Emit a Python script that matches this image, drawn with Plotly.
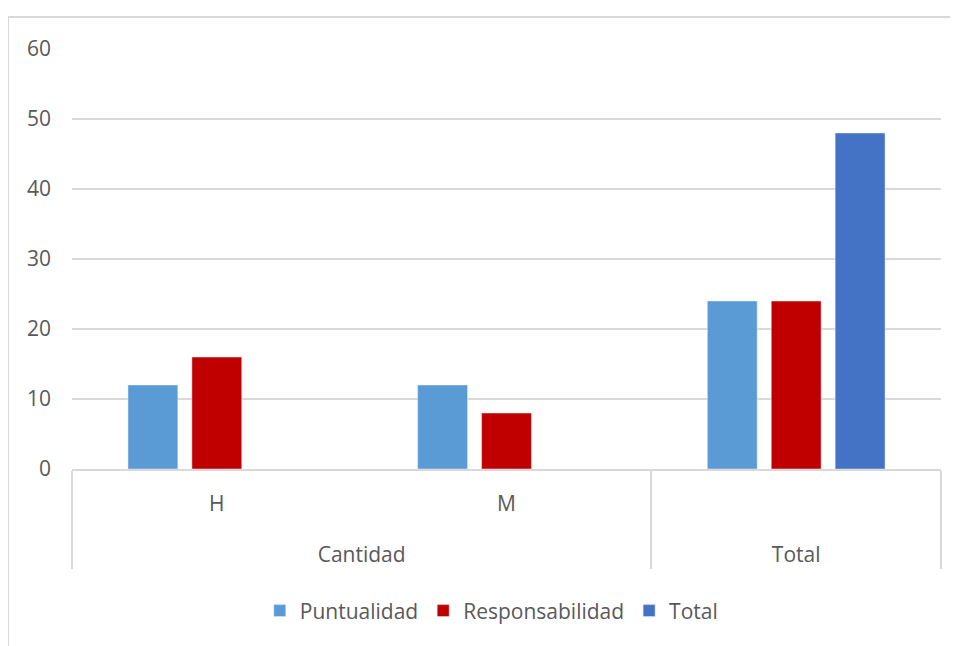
"""
Puntualidad y Responsabilidad por sexo — barras agrupadas
"""

import plotly.graph_objects as go

# categorías (nivel externo, nivel interno)
grupos = ["Cantidad", "Cantidad", "Total"]
sexos = ["H", "M", " "]

puntualidad = [12, 12, 24]
responsabilidad = [16, 8, 24]
total = [None, None, 48]

y_ticks = [0, 10, 20, 30, 40, 50, 60]

GRIS = "#595959"
LINEA = "#D9D9D9"
FUENTE = "Open Sans"

# la fila interna lleva una línea vacía extra para separar las dos filas de etiquetas
x_cat = [grupos, [s + "<br><span style='font-size:47px'> </span>" for s in sexos]]

fig = go.Figure()
fig.add_trace(go.Bar(x=x_cat, y=puntualidad, name="Puntualidad", marker_color="#5B9BD5"))
fig.add_trace(go.Bar(x=x_cat, y=responsabilidad, name="Responsabilidad", marker_color="#C00000"))
fig.add_trace(go.Bar(x=x_cat, y=total, name="Total", marker_color="#4472C4"))

# marco del gráfico (solo bordes superior e izquierdo visibles en el recorte)
fig.add_shape(
    type="rect", xref="paper", yref="paper",
    x0=-0.0736, x1=1.2, y0=-1.0, y1=1.0762,
    line=dict(color=LINEA, width=2), layer="below",
)

# la página añade 8 px de margen; el tamaño y los márgenes lo compensan
fig.update_layout(
    width=950,
    height=638,
    barmode="group",
    bargap=0.338,
    bargroupgap=0.22,
    margin=dict(l=64, r=17, t=41, b=177),
    paper_bgcolor="#FFFFFF",
    plot_bgcolor="#FFFFFF",
    font=dict(family=FUENTE, size=21, color=GRIS),
    legend=dict(
        orientation="h", x=0.4825, xanchor="center", y=-0.338, yanchor="middle",
        font=dict(size=21, color=GRIS), itemclick=False,
    ),
    xaxis=dict(
        type="multicategory",
        showline=True, linecolor=LINEA, linewidth=2,
        showdividers=True, dividercolor=LINEA, dividerwidth=2,
        showgrid=False, ticks="",
        ticklabelstandoff=15,
        tickfont=dict(size=21, color=GRIS),
    ),
    yaxis=dict(
        range=[0, 60], tickvals=y_ticks,
        showgrid=True, gridcolor=LINEA, gridwidth=2,
        zeroline=False, showline=False, ticks="",
        ticklabelstandoff=20,
        tickfont=dict(size=21, color=GRIS),
    ),
)

fig.write_html("out.html")
